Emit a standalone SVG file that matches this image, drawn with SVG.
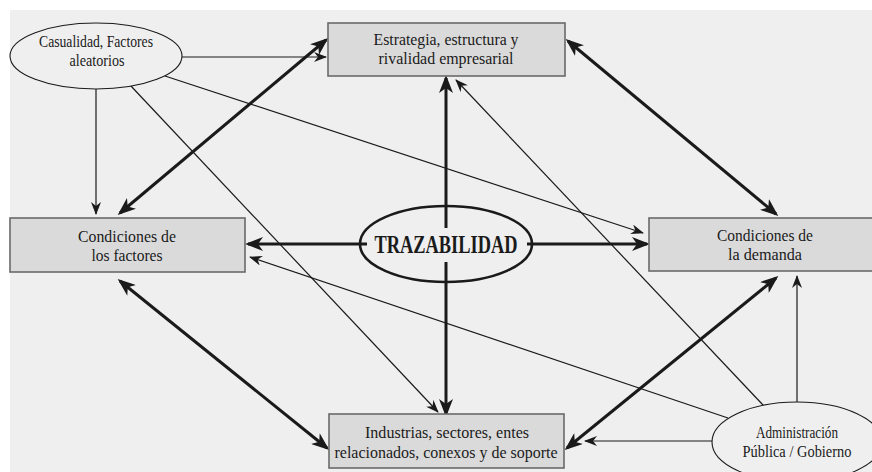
<svg xmlns="http://www.w3.org/2000/svg" width="872" height="472" viewBox="0 0 872 472">
<defs>
<style>
.box{fill:#dadada;stroke:#6a6a6a;stroke-width:1.6}
.oval{fill:#efefef;stroke:#1a1a1a;stroke-width:1.1}
.t{font-family:"Liberation Serif","Times New Roman",serif;font-size:16.5px;fill:#1a1a1a;text-anchor:middle}
.thin{stroke:#1a1a1a;stroke-width:1.2;fill:none;marker-end:url(#ah)}
.thick{stroke:#1a1a1a;stroke-width:3;fill:none;marker-end:url(#AH)}
.dbl{marker-start:url(#AH)}
</style>
<marker id="AH" viewBox="0 0 18 14" refX="15" refY="7" markerWidth="18" markerHeight="14" markerUnits="userSpaceOnUse" orient="auto-start-reverse">
<path d="M0,0 L18,7 L0,14 L5,7 z" fill="#1a1a1a"/>
</marker>
<marker id="ah" viewBox="0 0 13 10" refX="12" refY="5" markerWidth="13" markerHeight="10" markerUnits="userSpaceOnUse" orient="auto-start-reverse">
<path d="M0,0 L13,5 L0,10 L4,5 z" fill="#1a1a1a"/>
</marker>
</defs>
<rect x="0" y="0" width="872" height="472" fill="#ffffff"/>
<rect x="10" y="10" width="862" height="462" fill="#efefef"/>

<g id="connectors">
<path class="thin" d="M181,57 L326,57"/>
<path class="thin" d="M96,89 L96,214"/>
<path class="thin" d="M130,85 L438,412"/>
<path class="thin" d="M165,76 L643,233"/>
<path class="thick dbl" d="M120,213 L326,40"/>
<path class="thick dbl" d="M568,41 L776,214"/>
<path class="thick dbl" d="M120,281 L327,448"/>
<path class="thick dbl" d="M776,278 L567,448"/>
<path class="thick" d="M446,228 L446,78"/>
<path class="thick" d="M446,262 L446,414"/>
<path class="thick" d="M367,244 L248,244"/>
<path class="thick" d="M527,244 L647,244"/>
<path class="thin" d="M712,441 L585,441"/>
<path class="thin" d="M797,402 L797,276"/>
<path class="thin" d="M763,405 L456,80"/>
<path class="thin" d="M728,418 L250,257"/>
</g>

<g id="casualidad">
<ellipse class="oval" cx="96" cy="56" rx="86" ry="33"/>
<text class="t" x="96" y="47" textLength="114" lengthAdjust="spacingAndGlyphs">Casualidad, Factores</text>
<text class="t" x="97" y="66" textLength="55" lengthAdjust="spacingAndGlyphs">aleatorios</text>
</g>

<g id="estrategia">
<rect class="box" x="328" y="23" width="237" height="53"/>
<text class="t" x="446" y="45" textLength="145" lengthAdjust="spacingAndGlyphs">Estrategia, estructura y</text>
<text class="t" x="446" y="64" textLength="135" lengthAdjust="spacingAndGlyphs">rivalidad empresarial</text>
</g>

<g id="factores">
<rect class="box" x="10" y="218" width="235" height="54"/>
<text class="t" x="127" y="242" textLength="98" lengthAdjust="spacingAndGlyphs">Condiciones de</text>
<text class="t" x="127" y="261" textLength="71" lengthAdjust="spacingAndGlyphs">los factores</text>
</g>

<g id="demanda">
<rect class="box" x="649" y="218" width="240" height="53"/>
<text class="t" x="765" y="241" textLength="96" lengthAdjust="spacingAndGlyphs">Condiciones de</text>
<text class="t" x="765" y="260" textLength="74" lengthAdjust="spacingAndGlyphs">la demanda</text>
</g>

<g id="industrias">
<rect class="box" x="329" y="414" width="235" height="54"/>
<text class="t" x="447" y="438" textLength="164" lengthAdjust="spacingAndGlyphs">Industrias, sectores, entes</text>
<text class="t" x="446" y="458" textLength="223" lengthAdjust="spacingAndGlyphs">relacionados, conexos y de soporte</text>
</g>

<g id="trazabilidad">
<ellipse cx="446" cy="244" rx="86" ry="38" fill="none" stroke="#1a1a1a" stroke-width="2.6"/>
<text class="t" x="446" y="253" style="font-size:25px;font-weight:bold" textLength="143" lengthAdjust="spacingAndGlyphs">TRAZABILIDAD</text>
</g>

<g id="administracion">
<ellipse class="oval" cx="797" cy="442" rx="85" ry="40"/>
<text class="t" x="797" y="438" textLength="82" lengthAdjust="spacingAndGlyphs">Administración</text>
<text class="t" x="797" y="457" textLength="109" lengthAdjust="spacingAndGlyphs">Pública / Gobierno</text>
</g>
</svg>
